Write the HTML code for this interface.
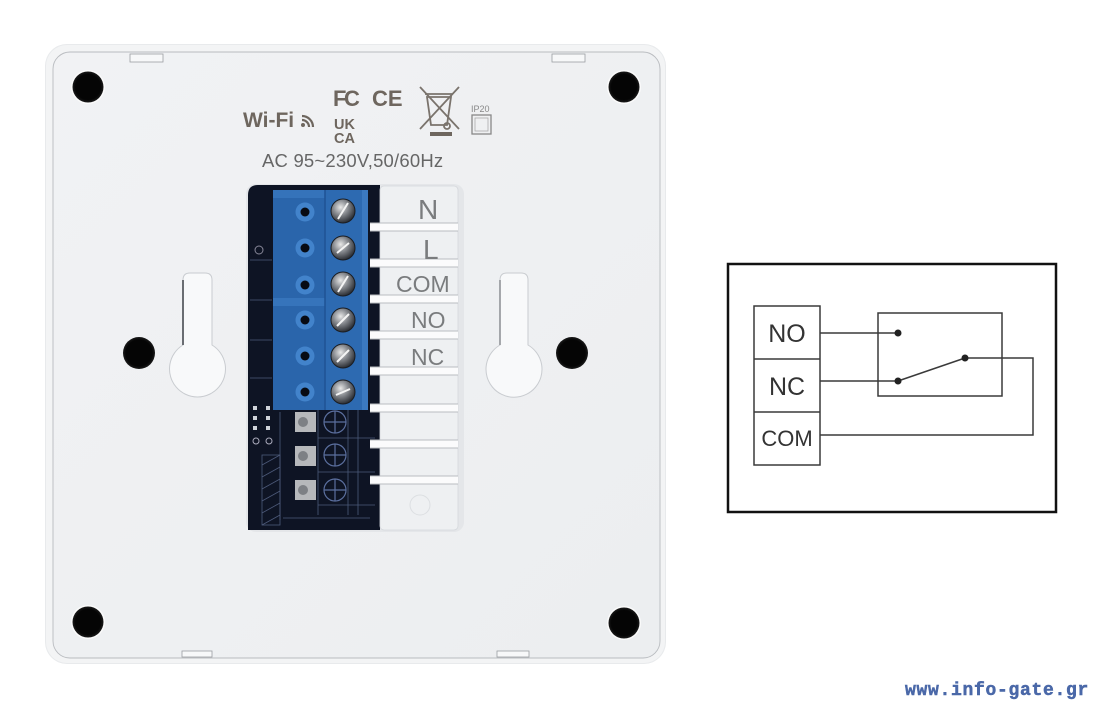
<!DOCTYPE html>
<html><head><meta charset="utf-8">
<style>
html,body{margin:0;padding:0;background:#fff;}
body{width:1100px;height:709px;overflow:hidden;position:relative;}
svg{position:absolute;left:0;top:0;}
</style></head>
<body>
<svg width="1100" height="709" viewBox="0 0 1100 709" xmlns="http://www.w3.org/2000/svg">
<defs>
<radialGradient id="hole" cx="0.5" cy="0.5" r="0.5">
<stop offset="0.82" stop-color="#050505"/><stop offset="1" stop-color="#1a1a1a"/>
</radialGradient>
<radialGradient id="screw" cx="0.4" cy="0.35" r="0.65">
<stop offset="0" stop-color="#e8e8e8"/><stop offset="0.45" stop-color="#8c8f94"/><stop offset="1" stop-color="#2c2f35"/>
</radialGradient>
<linearGradient id="body" x1="0" y1="0" x2="1" y2="1">
<stop offset="0" stop-color="#f1f2f4"/><stop offset="1" stop-color="#eceef0"/>
</linearGradient>
</defs>

<!-- device body -->
<rect x="45" y="44" width="621" height="620" rx="22" fill="#e8eaec"/>
<rect x="46" y="45" width="619" height="618" rx="21" fill="#f3f4f5"/>
<rect x="53" y="52" width="607" height="606" rx="17" fill="url(#body)" stroke="#b8bbbf" stroke-width="0.9"/>

<!-- tabs -->
<g fill="#f7f8f9" stroke="#9a9da2" stroke-width="0.8">
<rect x="130" y="54" width="33" height="8"/>
<rect x="552" y="54" width="33" height="8"/>
<rect x="182" y="651" width="30" height="6"/>
<rect x="497" y="651" width="32" height="6"/>
</g>

<!-- corner holes -->
<g>
<circle cx="88" cy="87" r="17" fill="#fbfbfb"/>
<circle cx="88" cy="87" r="15.5" fill="url(#hole)"/>
<circle cx="624" cy="87" r="17" fill="#fbfbfb"/>
<circle cx="624" cy="87" r="15.5" fill="url(#hole)"/>
<circle cx="88" cy="622" r="17" fill="#fbfbfb"/>
<circle cx="88" cy="622" r="15.5" fill="url(#hole)"/>
<circle cx="624" cy="623" r="17" fill="#fbfbfb"/>
<circle cx="624" cy="623" r="15.5" fill="url(#hole)"/>
<circle cx="139" cy="353" r="16" fill="url(#hole)"/>
<circle cx="572" cy="353" r="16" fill="url(#hole)"/>
</g>

<!-- keyholes -->
<g>
<path d="M183,280 Q183,273 190,273 L205,273 Q212,273 212,280 L212,345 A28,28 0 1 1 183,345 Z" fill="#f8f9fa" stroke="#c9ccd0" stroke-width="1"/>
<path d="M183,280 L183,345" stroke="#6a6d72" stroke-width="2"/>
<path d="M500,280 Q500,273 507,273 L521,273 Q528,273 528,280 L528,345 A28,28 0 1 1 500,345 Z" fill="#f8f9fa" stroke="#c9ccd0" stroke-width="1"/>
<path d="M500,280 L500,345" stroke="#8a8d92" stroke-width="1.5"/>
</g>

<!-- logos -->
<g fill="#6e665e" font-family="Liberation Sans, sans-serif">
<text x="243" y="127" font-size="21" font-weight="bold">Wi-Fi</text>
<g fill="none" stroke="#6e665e" stroke-width="2.2">
<path d="M302,116 A11,11 0 0 1 313,127"/>
<path d="M302,120 A7,7 0 0 1 309,127"/>
</g>
<circle cx="303" cy="125" r="2" />
<text x="333" y="106" font-size="22" font-weight="bold" letter-spacing="-2.5">FC</text>
<text x="372" y="106" font-size="22" font-weight="bold">CE</text>
<text x="334" y="129" font-size="14.5" font-weight="bold">UK</text>
<text x="334" y="143" font-size="14.5" font-weight="bold">CA</text>
</g>
<!-- WEEE -->
<g stroke="#7a736c" stroke-width="1.8" fill="none">
<line x1="420" y1="87" x2="459" y2="129"/>
<line x1="459" y1="87" x2="420" y2="129"/>
<path d="M427,97 L451,97 L447,125 L431,125 Z"/>
<line x1="425" y1="94" x2="453" y2="94"/>
<circle cx="447" cy="126" r="3"/>
</g>
<rect x="430" y="132" width="22" height="4" fill="#6e665e"/>
<text x="471" y="112" font-family="Liberation Sans, sans-serif" font-size="9" fill="#888">IP20</text>
<rect x="472" y="115" width="19" height="19" fill="none" stroke="#888" stroke-width="1.3"/>
<rect x="475" y="118" width="13" height="13" fill="none" stroke="#aaa" stroke-width="0.8"/>
<text x="262" y="167" font-family="Liberation Sans, sans-serif" font-size="18.5" fill="#666" letter-spacing="0.2">AC  95~230V,50/60Hz</text>

<!-- terminal window -->
<rect x="246" y="184" width="218" height="348" rx="10" fill="#e4e6e9"/>
<path d="M258,185 L380,185 L380,530 L248,530 L248,195 Q248,185 258,185 Z" fill="#0e1424"/>
<rect x="380" y="186" width="78" height="344" rx="4" fill="#eef0f2" stroke="#d4d7db" stroke-width="0.8"/>

<!-- pcb details -->
<g stroke="#4d5a7a" stroke-width="0.8" fill="none">
<line x1="250" y1="260" x2="272" y2="260"/>
<line x1="250" y1="300" x2="272" y2="300"/>
<line x1="250" y1="340" x2="272" y2="340"/>
<line x1="250" y1="378" x2="272" y2="378"/>
<rect x="262" y="455" width="18" height="70"/>
<line x1="262" y1="465" x2="280" y2="455"/>
<line x1="262" y1="477" x2="280" y2="467"/>
<line x1="262" y1="489" x2="280" y2="479"/>
<line x1="262" y1="501" x2="280" y2="491"/>
<line x1="262" y1="513" x2="280" y2="503"/>
<line x1="262" y1="525" x2="280" y2="515"/>
<line x1="280" y1="412" x2="280" y2="520"/>
<line x1="283" y1="518" x2="370" y2="518"/>
<line x1="318" y1="410" x2="318" y2="515"/>
<line x1="348" y1="410" x2="348" y2="515"/>
<line x1="358" y1="410" x2="358" y2="515"/>
<line x1="318" y1="438" x2="375" y2="438"/>
<line x1="318" y1="472" x2="375" y2="472"/>
<line x1="318" y1="505" x2="375" y2="505"/>
</g>
<g fill="#cfd3da">
<rect x="253" y="406" width="4" height="4"/><rect x="266" y="406" width="4" height="4"/>
<rect x="253" y="416" width="4" height="4"/><rect x="266" y="416" width="4" height="4"/>
<rect x="253" y="426" width="4" height="4"/><rect x="266" y="426" width="4" height="4"/>
</g>
<circle cx="256" cy="441" r="3" fill="none" stroke="#aab" stroke-width="1"/>
<circle cx="269" cy="441" r="3" fill="none" stroke="#aab" stroke-width="1"/>
<circle cx="259" cy="250" r="4" fill="none" stroke="#889" stroke-width="1"/>
<!-- lower pads -->
<g>
<rect x="295" y="412" width="21" height="20" fill="#b6b8bb"/>
<circle cx="303" cy="422" r="5" fill="#7d8085"/>
<rect x="295" y="446" width="21" height="20" fill="#b6b8bb"/>
<circle cx="303" cy="456" r="5" fill="#7d8085"/>
<rect x="295" y="480" width="21" height="20" fill="#b6b8bb"/>
<circle cx="303" cy="490" r="5" fill="#7d8085"/>
</g>
<g fill="none" stroke="#5b6f9e" stroke-width="1.2">
<circle cx="335" cy="422" r="11"/><line x1="335" y1="411" x2="335" y2="433"/><line x1="324" y1="422" x2="346" y2="422"/>
<circle cx="335" cy="455" r="11"/><line x1="335" y1="444" x2="335" y2="466"/><line x1="324" y1="455" x2="346" y2="455"/>
<circle cx="335" cy="490" r="11"/><line x1="335" y1="479" x2="335" y2="501"/><line x1="324" y1="490" x2="346" y2="490"/>
</g>

<!-- blue terminal block -->
<rect x="273" y="190" width="95" height="220" fill="#2a65ab"/>
<rect x="273" y="190" width="52" height="8" fill="#3573ba"/>
<rect x="273" y="298" width="52" height="8" fill="#3674bb"/>
<rect x="325" y="190" width="37" height="220" fill="#2d6ab1"/>
<rect x="362" y="190" width="6" height="220" fill="#3b79c0"/>
<line x1="325" y1="190" x2="325" y2="410" stroke="#1f5394" stroke-width="1.5"/>
<g>
<circle cx="305" cy="212" r="9.5" fill="#4283cb"/><circle cx="305" cy="212" r="4.5" fill="#070b14"/>
<circle cx="305" cy="248" r="9.5" fill="#4283cb"/><circle cx="305" cy="248" r="4.5" fill="#070b14"/>
<circle cx="305" cy="285" r="9.5" fill="#4283cb"/><circle cx="305" cy="285" r="4.5" fill="#070b14"/>
<circle cx="305" cy="320" r="9.5" fill="#4283cb"/><circle cx="305" cy="320" r="4.5" fill="#070b14"/>
<circle cx="305" cy="356" r="9.5" fill="#4283cb"/><circle cx="305" cy="356" r="4.5" fill="#070b14"/>
<circle cx="305" cy="392" r="9.5" fill="#4283cb"/><circle cx="305" cy="392" r="4.5" fill="#070b14"/>
</g>
<g>
<circle cx="343" cy="211" r="12" fill="url(#screw)" stroke="#1a1d22" stroke-width="1"/>
<circle cx="343" cy="248" r="12" fill="url(#screw)" stroke="#1a1d22" stroke-width="1"/>
<circle cx="343" cy="284" r="12" fill="url(#screw)" stroke="#1a1d22" stroke-width="1"/>
<circle cx="343" cy="320" r="12" fill="url(#screw)" stroke="#1a1d22" stroke-width="1"/>
<circle cx="343" cy="356" r="12" fill="url(#screw)" stroke="#1a1d22" stroke-width="1"/>
<circle cx="343" cy="392" r="12" fill="url(#screw)" stroke="#1a1d22" stroke-width="1"/>
</g>
<g stroke="#f4f4f4" stroke-width="2">
<line x1="338" y1="219" x2="348" y2="203"/>
<line x1="337" y1="253" x2="349" y2="243"/>
<line x1="338" y1="292" x2="348" y2="276"/>
<line x1="337" y1="326" x2="349" y2="314"/>
<line x1="337" y1="362" x2="349" y2="350"/>
<line x1="336" y1="395" x2="350" y2="389"/>
</g>

<!-- separator bars -->
<g>
<rect x="370" y="223" width="88" height="8" fill="#fbfbfc"/>
<rect x="370" y="259" width="88" height="8" fill="#fbfbfc"/>
<rect x="370" y="295" width="88" height="8" fill="#fbfbfc"/>
<rect x="370" y="331" width="88" height="8" fill="#fbfbfc"/>
<rect x="370" y="367" width="88" height="8" fill="#fbfbfc"/>
<rect x="370" y="404" width="88" height="8" fill="#fbfbfc"/>
<rect x="370" y="440" width="88" height="8" fill="#fbfbfc"/>
<rect x="370" y="476" width="88" height="8" fill="#fbfbfc"/>
</g>
<g stroke="#b9bcc1" stroke-width="1">
<line x1="370" y1="223" x2="458" y2="223"/><line x1="370" y1="231" x2="458" y2="231"/>
<line x1="370" y1="259" x2="458" y2="259"/><line x1="370" y1="267" x2="458" y2="267"/>
<line x1="370" y1="295" x2="458" y2="295"/><line x1="370" y1="303" x2="458" y2="303"/>
<line x1="370" y1="331" x2="458" y2="331"/><line x1="370" y1="339" x2="458" y2="339"/>
<line x1="370" y1="367" x2="458" y2="367"/><line x1="370" y1="375" x2="458" y2="375"/>
<line x1="370" y1="404" x2="458" y2="404"/><line x1="370" y1="412" x2="458" y2="412"/>
<line x1="370" y1="440" x2="458" y2="440"/><line x1="370" y1="448" x2="458" y2="448"/>
<line x1="370" y1="476" x2="458" y2="476"/><line x1="370" y1="484" x2="458" y2="484"/>
</g>
<circle cx="420" cy="505" r="10" fill="none" stroke="#dcdfe2" stroke-width="1"/>

<g font-family="Liberation Sans, sans-serif" fill="#7a7c7e">
<text x="418" y="219" font-size="28">N</text>
<text x="423" y="259" font-size="28">L</text>
<text x="396" y="292" font-size="23">COM</text>
<text x="411" y="328" font-size="23">NO</text>
<text x="411" y="365" font-size="23">NC</text>
</g>

<!-- wiring diagram -->
<rect x="728" y="264" width="328" height="248" fill="#fff" stroke="#111" stroke-width="2.5"/>
<g fill="none" stroke="#3a3a3a" stroke-width="1.5">
<rect x="754" y="306" width="66" height="159"/>
<line x1="754" y1="359" x2="820" y2="359"/>
<line x1="754" y1="412" x2="820" y2="412"/>
<rect x="878" y="313" width="124" height="83"/>
<line x1="820" y1="333" x2="898" y2="333"/>
<line x1="820" y1="381" x2="898" y2="381"/>
<line x1="898" y1="381" x2="965" y2="358"/>
<polyline points="965,358 1033,358 1033,435 820,435"/>
</g>
<g fill="#222">
<circle cx="898" cy="333" r="3.5"/>
<circle cx="898" cy="381" r="3.5"/>
<circle cx="965" cy="358" r="3.5"/>
</g>
<g font-family="Liberation Sans, sans-serif" fill="#333">
<text x="787" y="342" font-size="25" text-anchor="middle">NO</text>
<text x="787" y="395" font-size="25" text-anchor="middle">NC</text>
<text x="787" y="446" font-size="22" text-anchor="middle">COM</text>
</g>

<!-- watermark -->
<text x="905" y="695" font-family="Liberation Mono, monospace" font-weight="bold" font-size="18" letter-spacing="0.7" fill="#4a68a8" stroke="#4a68a8" stroke-width="0.5">www.info-gate.gr</text>
</svg>
</body></html>
